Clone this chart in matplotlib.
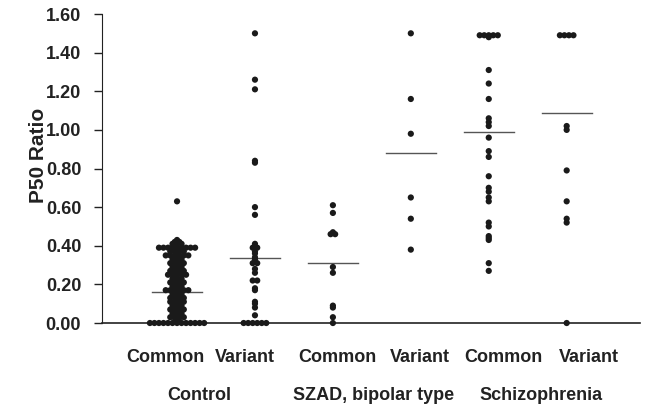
import numpy as np
import matplotlib
matplotlib.use('Agg')
import matplotlib.pyplot as plt
import matplotlib.transforms as mtransforms

plt.rcParams['font.family'] = ['Liberation Sans', 'DejaVu Sans']
plt.rcParams['font.weight'] = 'bold'

# data (P50 ratio per subject)
control_common = [0.63, 0.43, 0.42, 0.42, 0.41, 0.41, 0.41,
                  0.39, 0.39, 0.39, 0.39, 0.39, 0.39, 0.39, 0.39, 0.39,
                  0.37, 0.37, 0.37, 0.37, 0.35, 0.35, 0.35, 0.35, 0.35, 0.35,
                  0.33, 0.33, 0.33, 0.31, 0.31, 0.31, 0.31, 0.29, 0.29, 0.29,
                  0.27, 0.27, 0.27, 0.27, 0.25, 0.25, 0.25, 0.25, 0.25,
                  0.23, 0.23, 0.23, 0.21, 0.21, 0.21, 0.21, 0.19, 0.19, 0.19,
                  0.17, 0.17, 0.17, 0.17, 0.17, 0.17, 0.15, 0.15, 0.15,
                  0.13, 0.13, 0.13, 0.13, 0.11, 0.11, 0.11, 0.11, 0.09, 0.09, 0.09,
                  0.07, 0.07, 0.07, 0.07, 0.05, 0.05, 0.05, 0.03, 0.03, 0.03, 0.03,
                  0.01, 0.01,
                  0.00, 0.00, 0.00, 0.00, 0.00, 0.00, 0.00, 0.00, 0.00, 0.00,
                  0.00, 0.00, 0.00]
control_variant = [1.50, 1.26, 1.21, 0.84, 0.83, 0.60, 0.56,
                   0.41, 0.39, 0.39, 0.37, 0.36, 0.34, 0.33, 0.31, 0.31,
                   0.28, 0.26, 0.22, 0.22, 0.18, 0.17, 0.11, 0.10, 0.08, 0.04,
                   0.00, 0.00, 0.00, 0.00, 0.00, 0.00]
szad_common = [0.61, 0.57, 0.47, 0.46, 0.46, 0.29, 0.26, 0.09, 0.08, 0.03, 0.00]
szad_variant = [1.50, 1.16, 0.98, 0.65, 0.54, 0.38]
schiz_common = [1.49, 1.49, 1.49, 1.49, 1.49, 1.48, 1.31, 1.24, 1.16, 1.06, 1.04,
                1.02, 0.96, 0.89, 0.86, 0.76, 0.70, 0.68, 0.65, 0.63, 0.52,
                0.50, 0.45, 0.44, 0.43, 0.31, 0.27]
schiz_variant = [1.49, 1.49, 1.49, 1.49, 1.02, 1.00, 0.79, 0.63, 0.54, 0.52, 0.00]

groups = [control_common, control_variant, szad_common, szad_variant,
          schiz_common, schiz_variant]
means = [0.16, 0.335, 0.31, 0.88, 0.99, 1.09]
sub_labels = ['Common', 'Variant', 'Common', 'Variant', 'Common', 'Variant']
group_labels = ['Control', 'SZAD, bipolar type', 'Schizophrenia']
yticks = [0.0, 0.2, 0.4, 0.6, 0.8, 1.0, 1.2, 1.4, 1.6]

fig = plt.figure(figsize=(6.46, 4.17), dpi=100)
ax = fig.add_axes([0.158, 0.2254, 0.832, 0.741])

dot_dx = 0.058
for i, vals in enumerate(groups):
    pos = i + 1
    vals = np.array(vals)
    xs = np.zeros(len(vals))
    for v in np.unique(vals):
        idx = np.where(vals == v)[0]
        n = len(idx)
        xs[idx] = pos + (np.arange(n) - (n - 1) / 2) * dot_dx
    ax.scatter(xs, vals, s=20, color='#1a1a1a', edgecolors='none', zorder=3, clip_on=False)
    ax.plot([pos - 0.32, pos + 0.32], [means[i], means[i]], color='#555555', lw=1.0, zorder=2)

ax.set_xlim(0.038, 6.935)
ax.set_ylim(0, 1.6)
ax.set_yticks(yticks)
ax.set_yticklabels(['%.2f' % t for t in yticks], fontsize=13, fontweight='bold', color='#222222')
ax.tick_params(axis='y', length=6, width=1, pad=9, color='#222222')
ax.set_xticks([])
for s in ['top', 'right']:
    ax.spines[s].set_visible(False)
ax.spines['left'].set_color('#222222')
ax.spines['bottom'].set_color('#222222')
ax.spines['bottom'].set_linewidth(1.2)

trans = mtransforms.blended_transform_factory(ax.transData, ax.transAxes)
label_offsets = [-0.15, -0.13, 0.06, 0.12, 0.19, 0.28]
for i, lab in enumerate(sub_labels):
    ax.text(i + 1 + label_offsets[i], -0.113, lab, transform=trans, ha='center', va='center',
            fontsize=13, fontweight='bold', color='#222222')
group_x = [1.28, 3.52, 5.67]
for gx, lab in zip(group_x, group_labels):
    ax.text(gx, -0.233, lab, transform=trans, ha='center', va='center',
            fontsize=13, fontweight='bold', color='#222222')

fig.text(38 / 646, 1 - 155 / 417, 'P50 Ratio', rotation=90, ha='center', va='center',
         fontsize=15, fontweight='bold', color='#222222')

fig.savefig('out.png', dpi=100)
